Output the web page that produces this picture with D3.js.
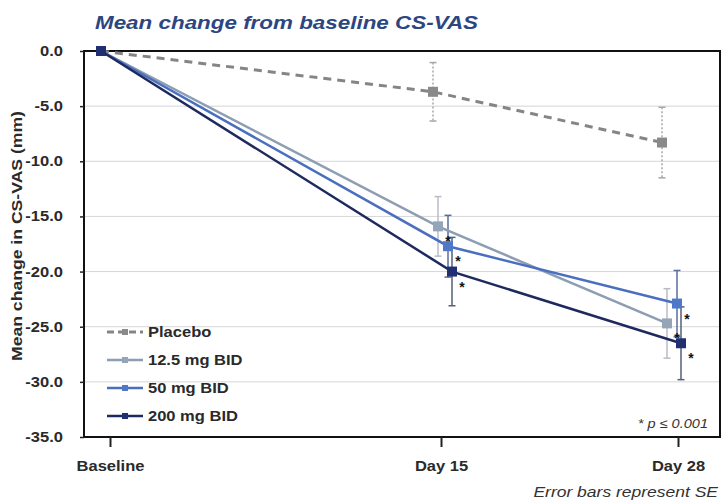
<!DOCTYPE html>
<html>
<head>
<meta charset="utf-8">
<script src="https://cdn.jsdelivr.net/npm/d3@7"></script>
<style>
  html, body { margin: 0; padding: 0; background: #fff; }
  svg { display: block; }
  text { font-family: "Liberation Sans", Arial, sans-serif; }
</style>
</head>
<body>
<svg id="chart" width="724" height="502"></svg>
<script>
// Time points and their day numbers
const timepoints = ["Baseline", "Day 15", "Day 28"];
const days = [0, 15, 28];

// Mean change from baseline (mm) per arm
const placebo = [0, -3.7, -8.3];
const dose12 = [0, -15.9, -24.7];
const dose50 = [0, -17.7, -22.9];
const dose200 = [0, -20.0, -26.5];

// Standard errors per arm
const sePlacebo = [null, 2.65, 3.2];
const se12 = [null, 2.7, 3.15];
const se50 = [null, 2.8, 3.0];
const se200 = [null, 3.1, 3.3];

// Significance flags (p <= 0.001)
const sig12 = [false, true, true];
const sig50 = [false, true, true];
const sig200 = [false, true, true];

const seriesNames = ["Placebo", "12.5 mg BID", "50 mg BID", "200 mg BID"];
const yTicks = [0, -5, -10, -15, -20, -25, -30, -35];

const series = [
  { name: seriesNames[0], values: placebo, se: sePlacebo, sig: [false, false, false],
    color: "#858585", marker: "#8a8a8a", errColor: "#a6a6a6", dash: "8,6", errDash: "2,2", width: 3, dodge: -10 },
  { name: seriesNames[1], values: dose12, se: se12, sig: sig12,
    color: "#8d9db3", marker: "#95a5b8", errColor: "#b8bcc4", dash: null, errDash: null, width: 2.5, dodge: -5 },
  { name: seriesNames[2], values: dose50, se: se50, sig: sig50,
    color: "#4a6fbf", marker: "#4f78c8", errColor: "#5a6e9a", dash: null, errDash: null, width: 2.5, dodge: 5 },
  { name: seriesNames[3], values: dose200, se: se200, sig: sig200,
    color: "#1e2a5e", marker: "#1f2f72", errColor: "#55607a", dash: null, errDash: null, width: 2.5, dodge: 9 }
];

const svg = d3.select("#chart");
const plotLeft = 84, plotRight = 720, plotTop = 51, plotBottom = 437;
const textStretch = 1.18;   // wide lettering used throughout the figure

// Widen text horizontally about its own anchor point
function stretch(sel, sx) {
  sel.each(function () {
    const t = d3.select(this);
    const tx = +t.attr("x") || 0, ty = +t.attr("y") || 0;
    t.attr("x", 0).attr("y", 0).attr("transform", `translate(${tx},${ty}) scale(${sx},1)`);
  });
  return sel;
}

const y = d3.scaleLinear().domain([-35, 0]).range([plotBottom, plotTop]);
// marker positions per time point
const x = d3.scaleLinear().domain(days).range([101, 443, 672]);
// category axis tick positions
const xAxisScale = d3.scaleLinear().domain(days).range([110, 441, 678]);

// Title
stretch(svg.append("text")
  .attr("x", 95).attr("y", 29)
  .attr("font-size", 19).attr("font-weight", "bold").attr("font-style", "italic")
  .attr("fill", "#2c4682")
  .text("Mean change from baseline CS-VAS"), textStretch);

// Gridlines
svg.append("g")
  .selectAll("line")
  .data(yTicks.filter(d => d !== 0 && d !== -35))
  .join("line")
  .attr("x1", plotLeft).attr("x2", plotRight)
  .attr("y1", d => y(d)).attr("y2", d => y(d))
  .attr("stroke", "#d6d6d6").attr("stroke-width", 1);

// Frame
svg.append("rect")
  .attr("x", plotLeft).attr("y", plotTop)
  .attr("width", plotRight - plotLeft).attr("height", plotBottom - plotTop)
  .attr("fill", "none").attr("stroke", "#111").attr("stroke-width", 2);

// Y axis
const yAxis = svg.append("g")
  .attr("transform", `translate(${plotLeft},0)`)
  .call(d3.axisLeft(y).tickValues(yTicks).tickSize(4).tickPadding(17));
yAxis.select(".domain").remove();
yAxis.selectAll(".tick line").attr("stroke", "#222").attr("stroke-width", 1.5);
stretch(yAxis.selectAll(".tick text")
  .attr("font-size", 14).attr("font-weight", "bold").attr("fill", "#2a2a2a")
  .attr("font-family", "Liberation Sans, Arial, sans-serif")
  .text(d => d === 0 ? "0.0" : "-" + Math.abs(d).toFixed(1)), textStretch);

// X axis
const xAxis = svg.append("g")
  .attr("transform", `translate(0,${plotBottom})`)
  .call(d3.axisBottom(xAxisScale).tickValues(days)
    .tickFormat((d, i) => timepoints[i]).tickSize(10).tickPadding(14));
xAxis.select(".domain").remove();
xAxis.selectAll(".tick line").attr("stroke", "#222").attr("stroke-width", 2);
stretch(xAxis.selectAll(".tick text")
  .attr("font-size", 14).attr("font-weight", "bold").attr("fill", "#2a2a2a")
  .attr("font-family", "Liberation Sans, Arial, sans-serif"), textStretch);

// Y axis title
svg.append("text")
  .attr("transform", `translate(22,${(plotTop + plotBottom) / 2 - 8}) rotate(-90)`)
  .attr("text-anchor", "middle")
  .attr("font-size", 14).attr("font-weight", "bold").attr("fill", "#2a2a2a")
  .attr("textLength", 250).attr("lengthAdjust", "spacingAndGlyphs")
  .text("Mean change in CS-VAS (mm)");

// Footnotes
stretch(svg.append("text")
  .attr("x", 708).attr("y", 428).attr("text-anchor", "end")
  .attr("font-size", 13).attr("font-style", "italic").attr("fill", "#333")
  .text("* p \u2264 0.001"), 1.12);
stretch(svg.append("text")
  .attr("x", 718).attr("y", 497).attr("text-anchor", "end")
  .attr("font-size", 14).attr("font-style", "italic").attr("fill", "#333")
  .text("Error bars represent SE"), 1.25);

const px = (s, i) => x(days[i]) + (i === 0 ? 0 : s.dodge);

// Error bars
series.forEach(s => {
  const g = svg.append("g");
  s.values.forEach((v, i) => {
    if (s.se[i] == null) return;
    const cx = px(s, i);
    const y1 = y(v + s.se[i]), y2 = y(v - s.se[i]);
    g.append("line").attr("x1", cx).attr("x2", cx).attr("y1", y1).attr("y2", y2)
      .attr("stroke", s.errColor).attr("stroke-width", 1.5)
      .attr("stroke-dasharray", s.errDash);
    [y1, y2].forEach(yy => g.append("line")
      .attr("x1", cx - 3.5).attr("x2", cx + 3.5).attr("y1", yy).attr("y2", yy)
      .attr("stroke", s.errColor).attr("stroke-width", 1.5));
  });
});

// Lines and markers
series.forEach(s => {
  const line = d3.line().x((d, i) => px(s, i)).y(d => y(d));
  svg.append("path").datum(s.values)
    .attr("d", line).attr("fill", "none")
    .attr("stroke", s.color).attr("stroke-width", s.width)
    .attr("stroke-dasharray", s.dash);
  svg.append("g").selectAll("rect").data(s.values).join("rect")
    .attr("x", (d, i) => px(s, i) - 5).attr("y", d => y(d) - 5)
    .attr("width", 10).attr("height", 10)
    .attr("fill", s.marker);
});

// Significance stars
series.forEach(s => {
  s.values.forEach((v, i) => {
    if (!s.sig[i]) return;
    svg.append("text")
      .attr("x", px(s, i) + 10).attr("y", y(v) + 20)
      .attr("text-anchor", "middle")
      .attr("font-size", 14).attr("font-weight", "bold").attr("fill", "#111")
      .text("*");
  });
});

// Legend
const legend = svg.append("g");
series.forEach((s, i) => {
  const ly = 332 + i * 28;
  legend.append("line")
    .attr("x1", 107).attr("x2", 143).attr("y1", ly).attr("y2", ly)
    .attr("stroke", s.color).attr("stroke-width", s.width)
    .attr("stroke-dasharray", s.dash ? "7,4" : null);
  legend.append("rect")
    .attr("x", 125 - 3).attr("y", ly - 3).attr("width", 6).attr("height", 6)
    .attr("fill", s.marker);
  stretch(legend.append("text")
    .attr("x", 148).attr("y", ly + 5)
    .attr("font-size", 14).attr("font-weight", "bold").attr("fill", "#2a2a2a")
    .text(s.name), textStretch);
});
</script>
</body>
</html>
